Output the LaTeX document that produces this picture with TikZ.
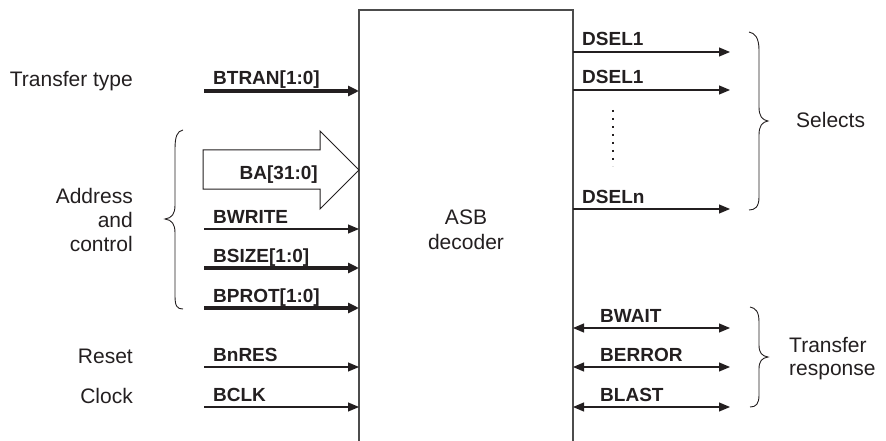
\documentclass[tikz,border=0pt]{standalone}
\usepackage{fontspec}
\setmainfont{Liberation Sans}
\usetikzlibrary{arrows.meta}
\definecolor{ink}{HTML}{231F20}
\begin{document}
\begin{tikzpicture}[x=1pt,y=-1pt,
  plain/.style={inner sep=0pt,text=ink,font=\fontsize{21}{24}\selectfont},
  sig/.style={inner sep=0pt,text=ink,font=\fontsize{19}{22}\bfseries\selectfont},
  thin/.style={draw=ink,line width=1.1pt,-{Triangle[length=11pt,width=9pt]}},
  bus/.style={draw=ink,line width=4pt,-{Triangle[length=11pt,width=10pt]}},
  bidir/.style={draw=ink,line width=1.1pt,{Triangle[length=11pt,width=9pt]}-{Triangle[length=11pt,width=9pt]}},
  brace/.style={draw=ink,line width=0.9pt}]
\useasboundingbox (0,0) rectangle (886,441);
% decoder box (open at bottom)
\coordinate (bl) at (359,441);
\coordinate (tl) at (359,10);
\coordinate (tr) at (573,10);
\coordinate (br) at (573,441);
\draw[draw=black!70,line width=1.3pt] (bl) -- (tl) -- (tr) -- (br);
\node[plain,anchor=base] (asb) at (466,224) {ASB};
\node[plain,anchor=base] (dec) at (466,249) {decoder};
% left side sources and box inputs
\foreach \n/\y in {btran/91,bwrite/229,bsize/268,bprot/308,bnres/367,bclk/407}{
  \coordinate (\n-s) at (204,\y);
  \coordinate (\n-e) at (359,\y);
}
\draw[bus] (btran-s) -- (btran-e);
\draw[thin] (bwrite-s) -- (bwrite-e);
\draw[bus] (bsize-s) -- (bsize-e);
\draw[bus] (bprot-s) -- (bprot-e);
\draw[thin] (bnres-s) -- (bnres-e);
\draw[thin] (bclk-s) -- (bclk-e);
\node[sig,anchor=base west] (lbtran) at (213,85) {BTRAN[1:0]};
\node[sig,anchor=base west] (lbwrite) at (213,223) {BWRITE};
\node[sig,anchor=base west] (lbsize) at (213,262) {BSIZE[1:0]};
\node[sig,anchor=base west] (lbprot) at (213,302) {BPROT[1:0]};
\node[sig,anchor=base west] (lbnres) at (213,361) {BnRES};
\node[sig,anchor=base west] (lbclk) at (213,401) {BCLK};
% BA bus arrow
\coordinate (ba1) at (203,150);
\coordinate (ba2) at (320,150);
\coordinate (ba3) at (320,131);
\coordinate (ba4) at (359,170);
\coordinate (ba5) at (320,209);
\coordinate (ba6) at (320,189);
\coordinate (ba7) at (203,189);
\draw[draw=ink,line width=1pt,line join=miter,fill=white] (ba1) -- (ba2) -- (ba3) -- (ba4) -- (ba5) -- (ba6) -- (ba7) -- cycle;
\node[sig,anchor=base east] (lba) at (318,179) {BA[31:0]};
% left descriptions
\node[plain,anchor=base east] (ttype) at (133,87) {Transfer type};
\node[plain,anchor=base east] (addr1) at (133,203) {Address};
\node[plain,anchor=base east] (addr2) at (133,227) {and};
\node[plain,anchor=base east] (addr3) at (133,251) {control};
\node[plain,anchor=base east] (reset) at (133,363) {Reset};
\node[plain,anchor=base east] (clock) at (133,403) {Clock};
% left brace
\draw[brace] (183,130) .. controls (177,131) and (175,137) .. (175,149) -- (175,205)
  .. controls (175,214) and (172,218) .. (165,219)
  .. controls (172,220) and (175,224) .. (175,233) -- (175,296)
  .. controls (175,306) and (177,309) .. (183,309);
% right side outputs
\foreach \n/\y in {dsela/52,dselb/90,dseln/209,bwait/328,berror/367,blast/407}{
  \coordinate (\n-s) at (573,\y);
  \coordinate (\n-e) at (730,\y);
}
\draw[thin] (dsela-s) -- (dsela-e);
\draw[thin] (dselb-s) -- (dselb-e);
\draw[thin] (dseln-s) -- (dseln-e);
\draw[bidir] (bwait-s) -- (bwait-e);
\draw[bidir] (berror-s) -- (berror-e);
\draw[bidir] (blast-s) -- (blast-e);
\node[sig,anchor=base west] (ldsela) at (582,46) {DSEL1};
\node[sig,anchor=base west] (ldselb) at (582,84) {DSEL1};
\node[sig,anchor=base west] (ldseln) at (582,203) {DSELn};
\node[sig,anchor=base west] (lbwait) at (600,322) {BWAIT};
\node[sig,anchor=base west] (lberror) at (600,361) {BERROR};
\node[sig,anchor=base west] (lblast) at (600,401) {BLAST};
% dots
\coordinate (dt) at (613,110);
\coordinate (db) at (613,166);
\draw[draw=ink,line width=1.6pt,dash pattern=on 1.6pt off 6.4pt] (dt) -- (db);
% right braces
\draw[brace] (749,32) .. controls (755,33) and (759,38) .. (759,50) -- (759,107)
  .. controls (759,116) and (762,120) .. (768,121)
  .. controls (762,122) and (759,126) .. (759,135) -- (759,197)
  .. controls (759,207) and (755,210) .. (749,210);
\draw[brace] (750,307) .. controls (756,308) and (759,312) .. (759,322) -- (759,345)
  .. controls (759,353) and (762,356) .. (768,357)
  .. controls (762,358) and (759,361) .. (759,369) -- (759,395)
  .. controls (759,404) and (756,407) .. (750,407);
\node[plain,anchor=base west] (selects) at (796,128) {Selects};
\node[plain,anchor=base west] (tresp1) at (789,352) {Transfer};
\node[plain,anchor=base west] (tresp2) at (789,375) {response};
\end{tikzpicture}
\end{document}
